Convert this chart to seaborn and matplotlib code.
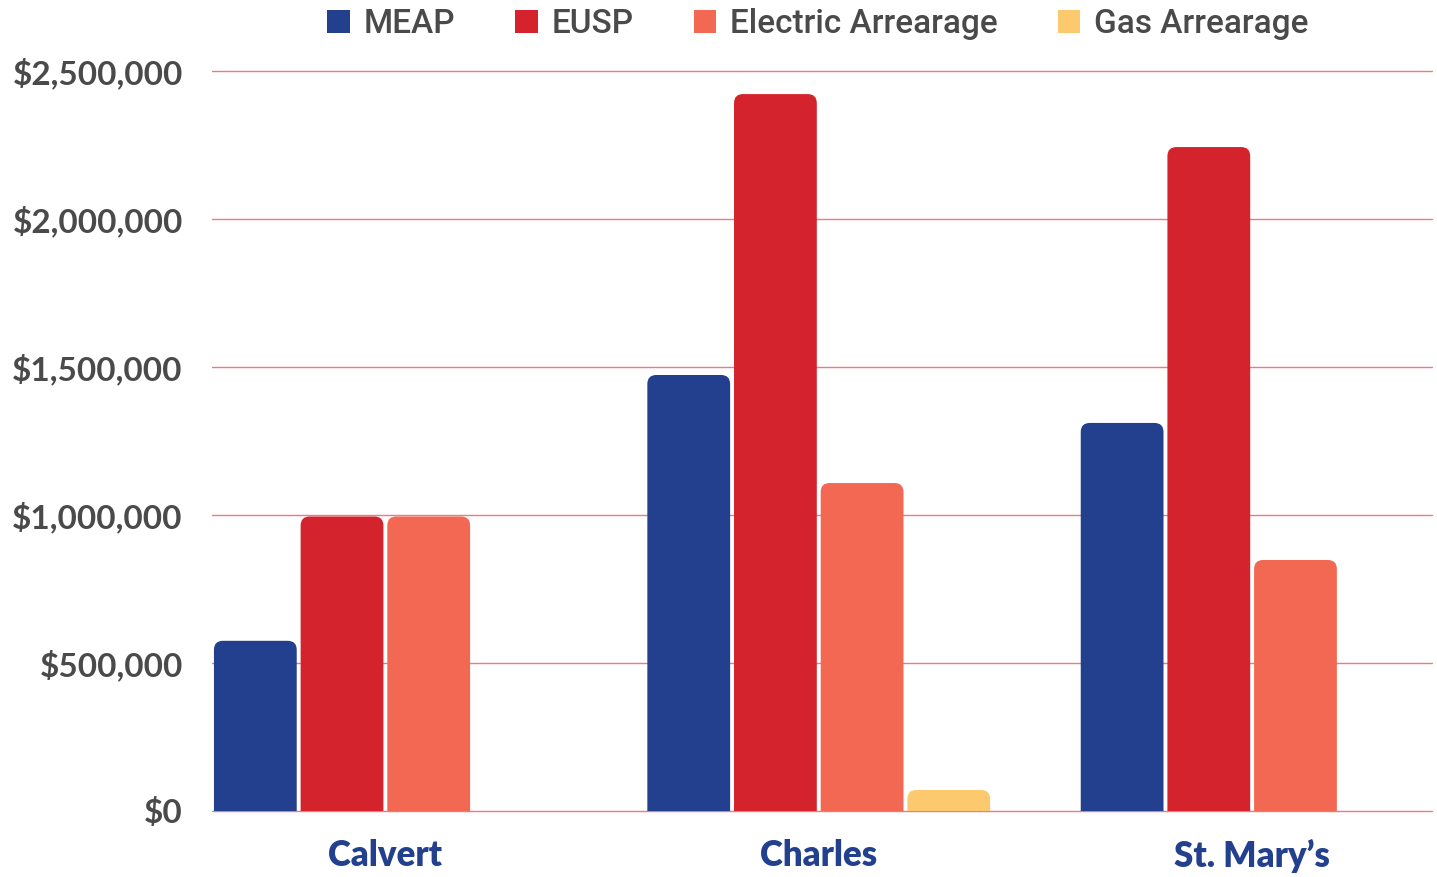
import matplotlib
matplotlib.use("Agg")
import matplotlib.pyplot as plt
from matplotlib.patches import FancyBboxPatch, Patch
from matplotlib.ticker import FuncFormatter
import seaborn as sns
import pandas as pd

# Program funding by county
counties = ["Calvert", "Charles", "St. Mary\u2019s"]
programs = ["MEAP", "EUSP", "Electric Arrearage", "Gas Arrearage"]
meap = [575000, 1473000, 1311000]
eusp = [995000, 2422000, 2243000]
electric = [995000, 1108000, 848000]
gas = [0, 71000, 0]
y_ticks = [0, 500000, 1000000, 1500000, 2000000, 2500000]

colors = ["#23408e", "#d4232d", "#f26852", "#fdc96f"]

rows = []
for prog, vals in zip(programs, [meap, eusp, electric, gas]):
    for county, v in zip(counties, vals):
        rows.append({"county": county, "program": prog, "amount": v})
df = pd.DataFrame(rows)

sns.set_theme(style="white")
plt.rcParams["font.family"] = ["Lato", "DejaVu Sans"]

fig = plt.figure(figsize=(14.37, 8.77), dpi=100)
ax = fig.add_axes([212 / 1437, 1 - 811 / 877, (1432 - 212) / 1437, (811 - 71) / 877])

sns.barplot(data=df, x="county", y="amount", hue="program", hue_order=programs,
            order=counties, palette=colors, saturation=1, width=0.8, gap=0.045,
            errorbar=None, legend=False, ax=ax)

ax.set_xlim(-0.4, 2.415)
ax.set_ylim(0, 2500000)

# Swap the plain rectangles for bars with rounded tops
fig.canvas.draw()
x_ppu = ax.bbox.width / (ax.get_xlim()[1] - ax.get_xlim()[0])
y_ppu = ax.bbox.height / (ax.get_ylim()[1] - ax.get_ylim()[0])
radius_px = 9
r_x = radius_px / x_ppu
aspect = (radius_px / y_ppu) / r_x
for p in list(ax.patches):
    x0, w, h = p.get_x(), p.get_width(), p.get_height()
    fc = p.get_facecolor()
    p.remove()
    if not h or h != h:
        continue
    ext = 2 * radius_px / y_ppu
    box = FancyBboxPatch((x0, -ext), w, h + ext,
                         boxstyle=f"round,pad=0,rounding_size={r_x}",
                         mutation_aspect=aspect, facecolor=fc, edgecolor="none",
                         zorder=2)
    ax.add_patch(box)

ax.set_yticks(y_ticks)
ax.yaxis.set_major_formatter(FuncFormatter(lambda v, _: f"${v:,.0f}"))
ax.grid(axis="y", color="#f07880", linewidth=1.0)
ax.set_axisbelow(True)
for gl in ax.get_ygridlines():
    gl.set_clip_on(False)
for s in ax.spines.values():
    s.set_visible(False)
ax.tick_params(axis="y", length=0, pad=21, labelsize=24, labelcolor="#4a4a4a")
ax.tick_params(axis="x", length=0, pad=20)
for lab in ax.get_yticklabels():
    lab.set_fontweight("bold")
for lab in ax.get_xticklabels():
    lab.set_fontsize(25)
    lab.set_fontweight("heavy")
    lab.set_color("#23408e")
ax.set_xlabel("")
ax.set_ylabel("")

handles = [Patch(facecolor=c, edgecolor="none") for c in colors]
fig.legend(handles, programs, loc="center", bbox_to_anchor=(818 / 1437, 1 - 24 / 877),
           ncol=4, frameon=False, handlelength=0.67, handleheight=0.67,
           handletextpad=0.42, columnspacing=1.8,
           prop={"family": ["Roboto", "DejaVu Sans"], "size": 24, "weight": "medium"},
           labelcolor="#4a4a4a")

fig.savefig("out.png", dpi=100)
